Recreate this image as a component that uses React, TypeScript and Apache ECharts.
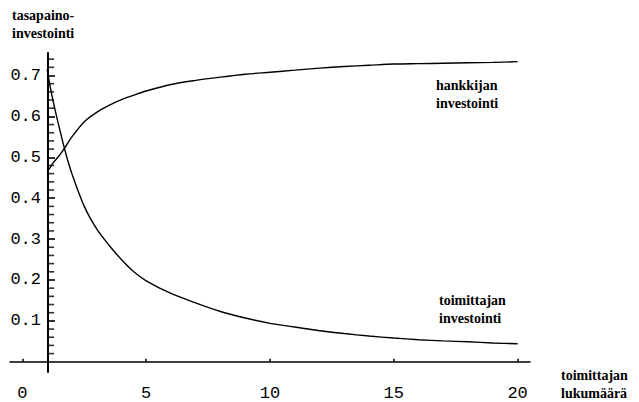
import React, { useEffect, useRef } from "react";
import * as echarts from "echarts";

// toimittajien lukumäärä (x) sampled points
const xValues = [1, 1.1, 1.25, 1.5, 1.75, 2, 2.5, 3, 3.5, 4, 4.5, 5, 6, 7, 8, 9, 10, 11, 12, 13, 14, 15, 16, 17, 18, 19, 20];
// hankkijan investointi
const hankkijaValues = [0.465, 0.473, 0.487, 0.505, 0.527, 0.55, 0.587, 0.61, 0.627, 0.641, 0.652, 0.662, 0.678, 0.688, 0.696, 0.703, 0.708, 0.713, 0.718, 0.722, 0.725, 0.728, 0.729, 0.730, 0.731, 0.732, 0.734];
// toimittajan investointi
const toimittajaValues = [0.715, 0.68, 0.635, 0.57, 0.51, 0.46, 0.38, 0.325, 0.285, 0.25, 0.22, 0.198, 0.167, 0.144, 0.123, 0.107, 0.094, 0.085, 0.076, 0.069, 0.063, 0.058, 0.054, 0.051, 0.049, 0.046, 0.044];

const xTickValues = [0, 5, 10, 15, 20];
const yTickValues = [0.1, 0.2, 0.3, 0.4, 0.5, 0.6, 0.7];
const yMinorTickValues = [
  0.02, 0.04, 0.06, 0.08, 0.12, 0.14, 0.16, 0.18, 0.22, 0.24, 0.26, 0.28,
  0.32, 0.34, 0.36, 0.38, 0.42, 0.44, 0.46, 0.48, 0.52, 0.54, 0.56, 0.58,
  0.62, 0.64, 0.66, 0.68, 0.72, 0.74,
];
const yAxisCrossX = 1;

const labelFont = "Liberation Mono";
const noteFont = "Liberation Serif";

export default function App() {
  const ref = useRef<HTMLDivElement>(null);
  useEffect(() => {
    if (!ref.current) return;
    const chart = echarts.init(ref.current, null, { renderer: "svg" });
    const yMin = -0.025;
    const yMax = 0.755;
    const gridLeft = 10;
    const gridWidth = 520;
    const axisX = 48;
    const noteStyle = {
      fill: "#000",
      font: `bold 14px "${noteFont}"`,
      lineHeight: 18,
    };
    chart.setOption({
      animation: false,
      backgroundColor: "#fff",
      grid: { left: gridLeft, top: 53, width: gridWidth, height: 327, containLabel: false },
      xAxis: {
        type: "value",
        min: -0.5,
        max: 20.5,
        axisLine: { show: true, onZero: true, lineStyle: { color: "#000", width: 1.6 } },
        axisTick: { show: true, inside: true, length: 3, customValues: xTickValues, lineStyle: { color: "#000", width: 1.5 } },
        axisLabel: {
          show: true,
          customValues: xTickValues,
          margin: 13,
          color: "#000",
          fontFamily: labelFont,
          fontSize: 17,
          formatter: (v: number) => String(v),
        },
        splitLine: { show: false },
      },
      yAxis: {
        type: "value",
        position: "left",
        offset: -(axisX - gridLeft),
        min: yMin,
        max: yMax,
        axisLine: { show: true, onZero: false, lineStyle: { color: "#000", width: 2 } },
        axisTick: { show: true, inside: true, length: 7, customValues: yTickValues, lineStyle: { color: "#000", width: 1.6 } },
        axisLabel: {
          show: true,
          customValues: yTickValues,
          margin: 7,
          color: "#000",
          fontFamily: labelFont,
          fontSize: 17,
          formatter: (v: number) => v.toFixed(1),
        },
        splitLine: { show: false },
      },
      series: [
        {
          name: "minor ticks",
          type: "scatter",
          data: yMinorTickValues.map((v) => [yAxisCrossX, v]),
          symbol: "rect",
          symbolSize: [6, 1.6],
          symbolOffset: [4, 0],
          itemStyle: { color: "#000" },
          silent: true,
          z: 5,
        },
        {
          name: "hankkijan investointi",
          type: "line",
          data: xValues.map((x, i) => [x, hankkijaValues[i]]),
          showSymbol: false,
          smooth: 0.3,
          lineStyle: { color: "#000", width: 1.4 },
        },
        {
          name: "toimittajan investointi",
          type: "line",
          data: xValues.map((x, i) => [x, toimittajaValues[i]]),
          showSymbol: false,
          smooth: 0.3,
          lineStyle: { color: "#000", width: 1.4 },
        },
      ],
      graphic: [
        { type: "text", left: 12, top: 6, style: { ...noteStyle, text: "tasapaino-\ninvestointi" } },
        { type: "text", left: 436, top: 76, style: { ...noteStyle, text: "hankkijan\ninvestointi" } },
        { type: "text", left: 439, top: 291, style: { ...noteStyle, text: "toimittajan\ninvestointi" } },
        { type: "text", left: 561, top: 366, style: { ...noteStyle, text: "toimittajan\nlukumäärä" } },
      ],
    });
    return () => chart.dispose();
  }, []);
  return (
    <div
      ref={ref}
      style={{ position: "absolute", left: 0, top: 0, width: 639, height: 402, background: "#fff" }}
    />
  );
}
